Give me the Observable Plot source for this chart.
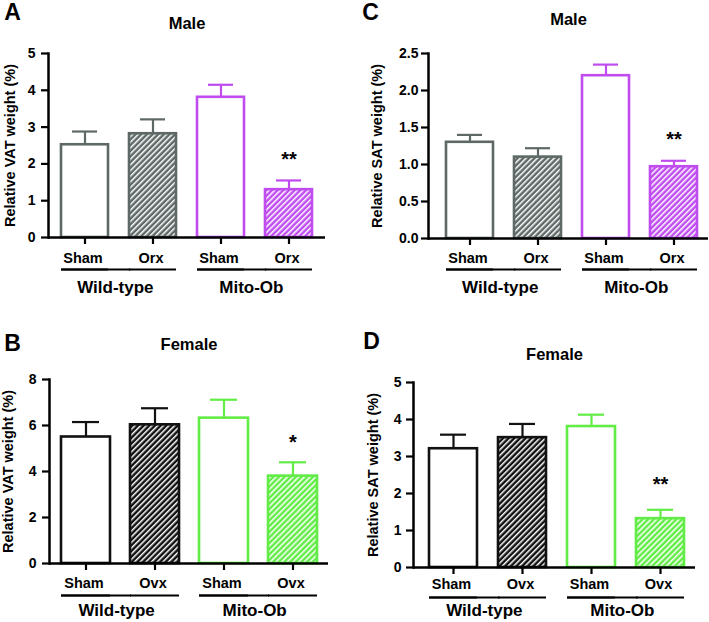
<!DOCTYPE html>
<html>
<head>
<meta charset="utf-8">
<script src="https://cdn.jsdelivr.net/npm/d3@7"></script>
<script src="https://cdn.jsdelivr.net/npm/@observablehq/plot@0.6"></script>
<style>
  html, body { margin: 0; padding: 0; background: #fff; }
  #root { position: relative; width: 709px; height: 622px; overflow: hidden; background: #fff; }
</style>
</head>
<body>
<svg id="defs" width="0" height="0" style="position:absolute"></svg>
<div id="root"></div>
<script>
// ---------- data ----------
const barKeys = ["WT-Sham", "WT-Castrated", "Ob-Sham", "Ob-Castrated"];
const genotypes = ["Wild-type", "Wild-type", "Mito-Ob", "Mito-Ob"];
const maleTreatments = ["Sham", "Orx", "Sham", "Orx"];
const femaleTreatments = ["Sham", "Ovx", "Sham", "Ovx"];
const hatched = [false, true, false, true];

const vatMaleMean = [2.52, 2.82, 3.81, 1.30];
const vatMaleSem = [0.36, 0.39, 0.34, 0.25];
const satMaleMean = [1.30, 1.10, 2.20, 0.97];
const satMaleSem = [0.10, 0.12, 0.15, 0.08];
const vatFemaleMean = [5.50, 6.03, 6.32, 3.80];
const vatFemaleSem = [0.65, 0.72, 0.80, 0.60];
const satFemaleMean = [3.21, 3.51, 3.81, 1.32];
const satFemaleSem = [0.38, 0.37, 0.32, 0.24];

const sigA = ["", "", "", "**"];
const sigPosA = [null, null, null, 2.28];
const sigC = ["", "", "", "**"];
const sigPosC = [null, null, null, 1.42];
const sigB = ["", "", "", "*"];
const sigPosB = [null, null, null, 5.52];
const sigD = ["", "", "", "**"];
const sigPosD = [null, null, null, 2.40];

const yTicksA = [0, 1, 2, 3, 4, 5];
const yTicksC = [0, 0.5, 1.0, 1.5, 2.0, 2.5];
const yTicksB = [0, 2, 4, 6, 8];
const yTicksD = [0, 1, 2, 3, 4, 5];

const maleColors = ["#5e6967", "#5e6967", "#c04cf0", "#c04cf0"];
const femaleColors = ["#111111", "#111111", "#62ec46", "#62ec46"];

// ---------- hatch patterns ----------
const patternIds = {};
const defs = d3.select("#defs").append("defs");
[...new Set([...maleColors, ...femaleColors])].forEach((c, i) => {
  const id = "hatch" + i;
  patternIds[c] = id;
  const p = defs.append("pattern")
    .attr("id", id)
    .attr("patternUnits", "userSpaceOnUse")
    .attr("width", 4).attr("height", 4)
    .attr("patternTransform", "rotate(45)");
  p.append("rect").attr("width", 4).attr("height", 4).attr("fill", c);
  p.append("rect").attr("width", 1.5).attr("height", 4).attr("fill", "white");
});

const FONT = "'Liberation Sans', Arial, Helvetica, sans-serif";

function panel(cfg) {
  const data = barKeys.map((k, i) => ({
    key: k,
    treat: cfg.treatments[i],
    geno: genotypes[i],
    value: cfg.mean[i],
    err: cfg.sem[i],
    sig: cfg.sig[i],
    sigY: cfg.sigPos[i],
    color: cfg.colors[i],
    fill: hatched[i] ? `url(#${patternIds[cfg.colors[i]]})` : "white",
    first: i % 2 === 0
  }));
  const n = barKeys.length;
  const rangeW = cfg.width - cfg.mL - cfg.mR;
  const step = rangeW / (n - cfg.pi + 2 * cfg.po);
  const gap = step * cfg.pi;
  const firsts = data.filter(d => d.first);
  const sigs = data.filter(d => d.sig);

  const plot = Plot.plot({
    width: cfg.width,
    height: cfg.height,
    marginLeft: cfg.mL,
    marginRight: cfg.mR,
    marginTop: cfg.mT,
    marginBottom: cfg.mB,
    style: {
      position: "absolute",
      left: cfg.left + "px",
      top: cfg.top + "px",
      overflow: "visible",
      fontFamily: FONT,
      color: "black",
      background: "transparent"
    },
    x: { domain: barKeys, paddingInner: cfg.pi, paddingOuter: cfg.po, align: cfg.align, axis: null },
    y: { domain: [0, cfg.yMax], axis: null },
    color: { type: "identity" },
    marks: [
      Plot.ruleX(data, { x: "key", y1: "value", y2: d => d.value + d.err, stroke: "color", strokeWidth: 2.2 }),
      Plot.tickY(data, { x: "key", y: d => d.value + d.err, stroke: "color", strokeWidth: 2.2, inset: 11 }),
      Plot.barY(data, { x: "key", y: "value", fill: "fill", stroke: "color", strokeWidth: 2.6 }),
      Plot.ruleY([0], { stroke: "black", strokeWidth: 2.5 }),
      Plot.frame({ anchor: "left", stroke: "black", strokeWidth: 2.5 }),
      Plot.axisY({ ticks: cfg.yTicks, tickSize: 7, tickFormat: () => "", label: null, strokeWidth: 2.2 }),
      Plot.axisX({ tickSize: 7, tickFormat: () => "", label: null, strokeWidth: 2.2 }),
      // y tick labels
      Plot.text(cfg.yTicks, {
        y: d => d, text: cfg.yFormat, frameAnchor: "left", dx: -cfg.yLabPad,
        textAnchor: "end", lineAnchor: "middle", fontSize: 14, fontWeight: "bold", fill: "black"
      }),
      // x tick labels
      Plot.text(data, {
        x: "key", y: () => 0, text: "treat", dx: -2, dy: cfg.xLabDy,
        lineAnchor: "middle", fontSize: 14.5, fontWeight: "bold", fill: "black"
      }),
      // group underlines
      Plot.tickY(firsts, { x: "key", y: () => 0, dy: cfg.lineDy, insetRight: -gap - 1, stroke: "black", strokeWidth: 2.2 }),
      Plot.tickY(data, { x: "key", y: () => 0, dy: cfg.lineDy, stroke: "black", strokeWidth: 2.2 }),
      // group labels
      Plot.text(firsts, {
        x: "key", y: () => 0, text: "geno", dx: step / 2 - 4, dy: cfg.groupDy,
        fontSize: 17, fontWeight: "bold", lineAnchor: "middle", fill: "black"
      }),
      // significance
      Plot.text(sigs, {
        x: "key", y: "sigY", text: "sig", dy: 6, fontSize: 20, fontWeight: "bold",
        lineAnchor: "middle", fill: "black"
      }),
      // y axis label
      Plot.text([cfg.yLabel], {
        frameAnchor: "left", rotate: -90, dx: cfg.labelDx, textAnchor: "middle", lineAnchor: "middle",
        fontSize: 14.5, fontWeight: "bold", fill: "black"
      }),
      // title
      Plot.text([cfg.title], {
        frameAnchor: "top", dy: cfg.titleY - cfg.mT, textAnchor: "middle", lineAnchor: "middle",
        fontSize: 16.5, fontWeight: "bold", fill: "black"
      }),
      // panel letter
      Plot.text([cfg.letter], {
        frameAnchor: "top-left", dx: cfg.letterX - cfg.mL, dy: cfg.letterY - cfg.mT,
        textAnchor: "middle", lineAnchor: "middle", fontSize: 23, fontWeight: "bold", fill: "black"
      })
    ]
  });
  document.getElementById("root").appendChild(plot);
}

panel({
  letter: "A", title: "Male", yLabel: "Relative VAT weight (%)",
  left: 0, top: 0, width: 355, height: 305, mL: 48, mR: 30, mT: 53, mB: 68,
  pi: 0.31, po: 0.17, align: 0.5,
  treatments: maleTreatments, mean: vatMaleMean, sem: vatMaleSem, colors: maleColors,
  sig: sigA, sigPos: sigPosA, yMax: 5, yTicks: yTicksA, yFormat: d3.format("d"), yLabPad: 13,
  xLabDy: 21, lineDy: 32, groupDy: 50, labelDx: -38, titleY: 23, letterX: 12, letterY: 12.5
});
panel({
  letter: "C", title: "Male", yLabel: "Relative SAT weight (%)",
  left: 355, top: 0, width: 354, height: 305, mL: 73, mR: 1, mT: 53, mB: 67,
  pi: 0.31, po: 0.2, align: 0.62,
  treatments: maleTreatments, mean: satMaleMean, sem: satMaleSem, colors: maleColors,
  sig: sigC, sigPos: sigPosC, yMax: 2.5, yTicks: yTicksC, yFormat: d3.format(".1f"), yLabPad: 10,
  xLabDy: 20, lineDy: 31, groupDy: 49, labelDx: -51, titleY: 19.5, letterX: 15, letterY: 12
});
panel({
  letter: "B", title: "Female", yLabel: "Relative VAT weight (%)",
  left: 0, top: 305, width: 355, height: 317, mL: 49, mR: 27, mT: 74, mB: 59,
  pi: 0.29, po: 0.158, align: 0.5,
  treatments: femaleTreatments, mean: vatFemaleMean, sem: vatFemaleSem, colors: femaleColors,
  sig: sigB, sigPos: sigPosB, yMax: 8, yTicks: yTicksB, yFormat: d3.format("d"), yLabPad: 13,
  xLabDy: 20, lineDy: 32, groupDy: 47, labelDx: -41, titleY: 39, letterX: 12, letterY: 38
});
panel({
  letter: "D", title: "Female", yLabel: "Relative SAT weight (%)",
  left: 355, top: 305, width: 354, height: 317, mL: 58, mR: 14, mT: 77, mB: 55,
  pi: 0.31, po: 0.178, align: 0.6,
  treatments: femaleTreatments, mean: satFemaleMean, sem: satFemaleSem, colors: femaleColors,
  sig: sigD, sigPos: sigPosD, yMax: 5, yTicks: yTicksD, yFormat: d3.format("d"), yLabPad: 12,
  xLabDy: 17, lineDy: 30, groupDy: 43, labelDx: -40, titleY: 49, letterX: 16, letterY: 36
});
</script>
</body>
</html>
